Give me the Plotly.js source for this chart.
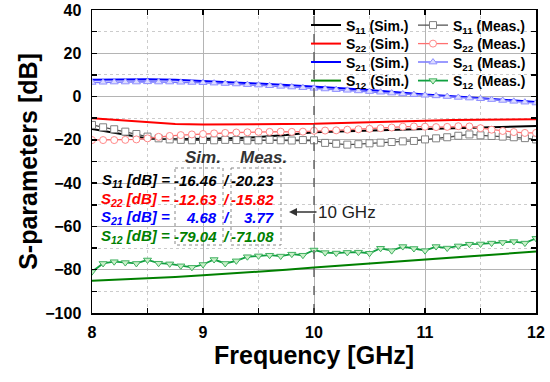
<!DOCTYPE html>
<html><head><meta charset="utf-8">
<script src="https://cdn.plot.ly/plotly-3.0.1.min.js"></script>
<style>html,body{margin:0;padding:0;background:#fff}#c{width:550px;height:382px}</style>
</head><body><div id="c"></div>
<script>
// ---- data ----
const fSim = [8.0,8.25,8.5,8.75,9.0,9.25,9.5,9.75,10.0,10.25,10.5,10.75,11.0,11.25,11.5,11.75,12.0];
const s11Sim = [-15.0,-17.3,-19.4,-19.7,-19.5,-19.2,-18.7,-17.8,-16.5,-16.0,-15.6,-15.3,-15.0,-14.6,-14.2,-13.9,-13.6];
const s22Sim = [-10.0,-10.8,-11.8,-12.7,-12.9,-12.9,-12.8,-12.7,-12.6,-12.2,-11.8,-11.3,-10.9,-10.8,-10.7,-10.6,-10.5];
const s21Sim = [7.8,8.0,8.0,7.8,7.3,6.7,6.0,5.3,4.7,3.9,3.0,1.9,0.9,0.2,-0.6,-1.5,-2.5];
const s12Sim = [-85.1,-84.6,-84.0,-83.4,-82.6,-81.8,-81.0,-80.0,-79.0,-78.1,-77.2,-76.2,-75.2,-74.3,-73.4,-72.5,-71.6];

const fMeas = [8.0,8.1,8.2,8.3,8.4,8.5,8.6,8.7,8.8,8.9,9.0,9.1,9.2,9.3,9.4,9.5,9.6,9.7,9.8,9.9,10.0,
               10.1,10.2,10.3,10.4,10.5,10.6,10.7,10.8,10.9,11.0,11.1,11.2,11.3,11.4,11.5,11.6,11.7,11.8,11.9,12.0];
const s11Meas = [-13.1,-14.2,-15.1,-16.2,-17.3,-18.5,-19.3,-19.8,-20.0,-20.2,-20.1,-20.2,-20.0,-20.1,-20.3,-20.2,-20.0,-20.2,-20.3,-20.1,-20.2,
                 -21.4,-21.8,-22.2,-22.0,-21.6,-21.3,-21.0,-20.7,-20.5,-19.8,-19.3,-18.8,-18.1,-17.5,-17.9,-18.2,-18.5,-18.8,-19.2,-19.8];
const s22Meas = [-20.1,-20.1,-20.1,-20.0,-19.8,-19.3,-18.6,-18.2,-17.8,-17.5,-17.3,-17.0,-16.8,-16.6,-16.5,-16.3,-16.3,-16.2,-16.3,-16.2,-15.8,
                 -15.7,-15.6,-15.3,-15.1,-14.9,-14.6,-14.3,-13.9,-13.8,-13.9,-14.1,-14.0,-13.7,-13.8,-14.6,-15.3,-15.9,-16.4,-16.8,-16.8];
const s21Meas = [6.5,6.6,6.7,6.7,6.7,6.8,6.7,6.7,6.6,6.5,6.4,6.2,6.0,5.8,5.5,5.3,5.0,4.7,4.4,4.1,3.8,
                 3.5,3.2,2.9,2.6,2.3,2.0,1.6,1.2,0.9,0.6,0.3,0.0,-0.4,-0.7,-1.0,-1.4,-1.8,-2.2,-2.6,-3.0];
const s12Meas = [-80.9,-77.1,-76.3,-76.7,-77.1,-75.5,-77.0,-77.3,-78.2,-78.9,-77.6,-75.3,-77.1,-75.9,-74.0,-73.6,-73.3,-73.7,-72.8,-73.3,-70.9,
                 -72.1,-72.3,-72.0,-71.9,-72.4,-70.1,-71.2,-69.3,-70.2,-71.2,-69.3,-70.0,-69.0,-68.2,-68.1,-67.7,-67.4,-67.0,-67.7,-65.5];

const rowLabels = ["S<sub>11</sub> [dB] =","S<sub>22</sub> [dB] =","S<sub>21</sub> [dB] =","S<sub>12</sub> [dB] ="];
const simAt10 = ["-16.46","-12.63","4.68","-79.04"];
const measAt10 = ["-20.23","-15.82","3.77","-71.08"];
const rowColors = ["#000000","#ff0000","#0000ff","#008000"];

// ---- helpers (pixel -> paper) ----
const L=92, R=536, T=10, B=313;
const px = v => (v-L)/(R-L);
const py = v => 1-(v-T)/(B-T);
const FF = "Arial, 'Liberation Sans', sans-serif";

const simLine = (y,name,color,lg)=>({x:fSim,y:y,name:name,type:'scatter',mode:'lines',
  line:{color:color,width:2},legend:lg});
const measLine = (y,name,lc,sym,fill,mc,lw,lg)=>({x:fMeas,y:y,name:name,type:'scatter',mode:'lines+markers',
  line:{color:lc,width:lw},marker:{symbol:sym,size:7,color:fill,line:{color:mc,width:1}},legend:lg});

const traces = [
  simLine(s11Sim,"S<sub>11</sub> (Sim.)","#000000",'legend'),
  simLine(s22Sim,"S<sub>22</sub> (Sim.)","#ff0000",'legend2'),
  simLine(s21Sim,"S<sub>21</sub> (Sim.)","#0000ff",'legend3'),
  simLine(s12Sim,"S<sub>12</sub> (Sim.)","#008000",'legend4'),
  measLine(s11Meas,"S<sub>11</sub> (Meas.)","#505050","square","#ffffff","#808080",1.3,'legend5'),
  measLine(s22Meas,"S<sub>22</sub> (Meas.)","#ff7070","circle","#ffffff","#ff8888",1.3,'legend6'),
  measLine(s21Meas,"S<sub>21</sub> (Meas.)","#7878ff","triangle-up","#dcdcff","#9090ff",1.5,'legend7'),
  measLine(s12Meas,"S<sub>12</sub> (Meas.)","#10a040","triangle-down","#c8f0c8","#40b060",1.8,'legend8')
];

const annotations = [];
const hf = {family:FF,size:17,color:"#333",weight:'bold',style:'italic'};
annotations.push({xref:'paper',yref:'paper',x:px(183),y:py(157),xanchor:'left',yanchor:'middle',text:"Sim.",showarrow:false,font:hf});
annotations.push({xref:'paper',yref:'paper',x:px(238),y:py(157),xanchor:'left',yanchor:'middle',text:"Meas.",showarrow:false,font:hf});
const rowY=[180,199,217,236];
for(let i=0;i<4;i++){
  const f={family:FF,size:15,color:rowColors[i],weight:'bold',style:'italic'};
  const yy = py(rowY[i]);
  annotations.push({xref:'paper',yref:'paper',x:px(172),y:yy,xanchor:'right',yanchor:'middle',text:rowLabels[i],showarrow:false,font:f});
  annotations.push({xref:'paper',yref:'paper',x:px(219),y:yy,xanchor:'right',yanchor:'middle',text:simAt10[i],showarrow:false,font:f});
  annotations.push({xref:'paper',yref:'paper',x:px(226),y:yy,xanchor:'center',yanchor:'middle',text:"/",showarrow:false,font:f});
  annotations.push({xref:'paper',yref:'paper',x:px(276),y:yy,xanchor:'right',yanchor:'middle',text:measAt10[i],showarrow:false,font:f});
}
annotations.push({xref:'paper',yref:'paper',x:px(289),y:py(212),ax:58,ay:0,text:"10 GHz",showarrow:true,
  arrowhead:2,arrowsize:1,arrowwidth:1.6,arrowcolor:"#333",standoff:0,
  font:{family:FF,size:17,color:"#222"}});

const shapes = [
  {type:'line',xref:'x',yref:'paper',x0:10,x1:10,y0:0,y1:1,line:{color:'#555',width:1.3,dash:'dash'}},
  {type:'rect',xref:'paper',yref:'paper',x0:px(175),x1:px(223),y0:py(168),y1:py(245),line:{color:'#888',width:1,dash:'dot'}},
  {type:'rect',xref:'paper',yref:'paper',x0:px(231),x1:px(281),y0:py(168),y1:py(245),line:{color:'#888',width:1,dash:'dot'}}
];

const axisCommon = {showline:true,linecolor:'#000',linewidth:1.5,mirror:'ticks',ticks:'inside',ticklen:5,tickwidth:1.5,
  tickcolor:'#000',showgrid:true,gridcolor:'#b4b4b4',gridwidth:1,zeroline:false,
  tickfont:{family:FF,size:16,color:'#000',weight:'bold'}};

const legendBase = (xp, yc) => ({x:px(xp),y:py(yc-15.5),xanchor:'left',yanchor:'top',bgcolor:'rgba(0,0,0,0)',borderwidth:0,
    font:{family:FF,size:14,color:'#000',weight:'bold'},itemwidth:30});
const rowsL=[25,43.5,62,80.5];

const layout = {
  width:550,height:382,margin:{l:L,r:550-R,t:T,b:382-B},
  paper_bgcolor:'#fff',plot_bgcolor:'#fff',
  xaxis:Object.assign({},axisCommon,{range:[8,12],dtick:1,tick0:8,ticklabelstandoff:4,
    minor:{dtick:0.5,ticks:'inside',ticklen:5,tickwidth:1.5,tickcolor:'#000',showgrid:true,griddash:'dot',gridcolor:'#cccccc'},
    title:{text:"Frequency [GHz]",standoff:6,font:{family:FF,size:25,color:'#000',weight:'bold'}}}),
  yaxis:Object.assign({},axisCommon,{range:[-100,40],dtick:20,tick0:0,ticklabelstandoff:6,
    minor:{dtick:10,ticks:'inside',ticklen:5,tickwidth:1.5,tickcolor:'#000',showgrid:true,griddash:'dot',gridcolor:'#cccccc'},
    title:{text:"S-parameters [dB]",standoff:0,font:{family:FF,size:25,color:'#000',weight:'bold'}}}),
  legend:legendBase(306,rowsL[0]), legend2:legendBase(306,rowsL[1]),
  legend3:legendBase(306,rowsL[2]), legend4:legendBase(306,rowsL[3]),
  legend5:legendBase(413,rowsL[0]), legend6:legendBase(413,rowsL[1]),
  legend7:legendBase(413,rowsL[2]), legend8:legendBase(413,rowsL[3]),
  showlegend:true,
  annotations:annotations,shapes:shapes
};
Plotly.newPlot('c',traces,layout,{displayModeBar:false,staticPlot:true});
</script></body></html>
